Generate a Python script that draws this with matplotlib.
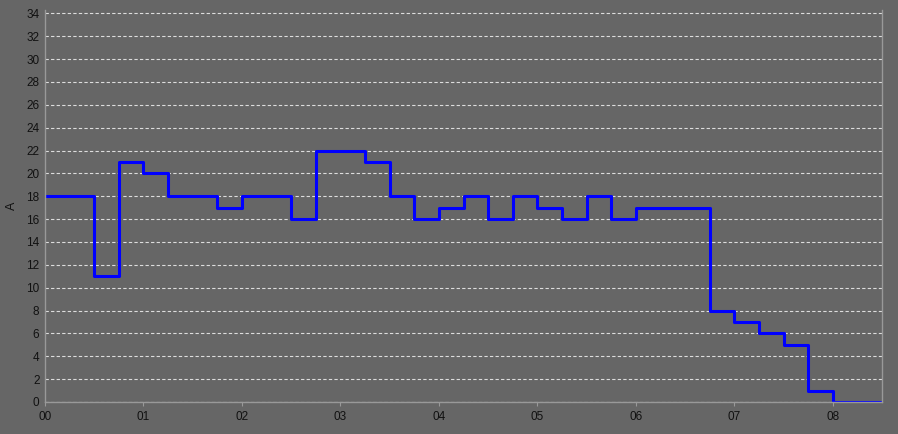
import matplotlib
matplotlib.use('Agg')
import matplotlib.pyplot as plt

# step starts (hours) and current values (A)
hours = [0, 0.5, 0.75, 1.0, 1.25, 1.75, 2.0, 2.5, 2.75, 3.25, 3.5, 3.75, 4.0,
         4.25, 4.5, 4.75, 5.0, 5.25, 5.5, 5.75, 6.0, 6.75, 7.0, 7.25, 7.5,
         7.75, 8.0, 8.5]
amps = [18, 11, 21, 20, 18, 17, 18, 16, 22, 21, 18, 16, 17,
        18, 16, 18, 17, 16, 18, 16, 17, 8, 7, 6, 5,
        1, 0, 0]
xticks = list(range(9))
xlabels = ['%02d' % h for h in xticks]
yticks = list(range(0, 35, 2))

bg = '#666666'
plt.rcParams['font.family'] = ['Liberation Sans', 'DejaVu Sans']

fig = plt.figure(figsize=(8.98, 4.34), dpi=100, facecolor=bg)
ax = fig.add_axes([45/898, 32/434, 837/898, 392/434])
ax.set_facecolor(bg)

ax.step(hours, amps, where='post', color='#0000ff', lw=2.2)

ax.set_xlim(0, 8.5)
ax.set_ylim(0, 34.3)
ax.set_xticks(xticks)
ax.set_xticklabels(xlabels)
ax.set_yticks(yticks)
ax.set_ylabel('A', fontsize=9, color='#111111', labelpad=6)

ax.yaxis.grid(True, color='#dddddd', ls=(0, (3, 2)), lw=0.8)
for sp in ['left', 'bottom', 'right']:
    ax.spines[sp].set_color('#999999')
    ax.spines[sp].set_linewidth(1)
ax.spines['top'].set_visible(False)
ax.tick_params(axis='both', colors='#999999', labelcolor='#111111',
               labelsize=8.5, length=3)
ax.tick_params(axis='y', length=0, pad=4)

fig.savefig('out.png', dpi=100, facecolor=bg)
